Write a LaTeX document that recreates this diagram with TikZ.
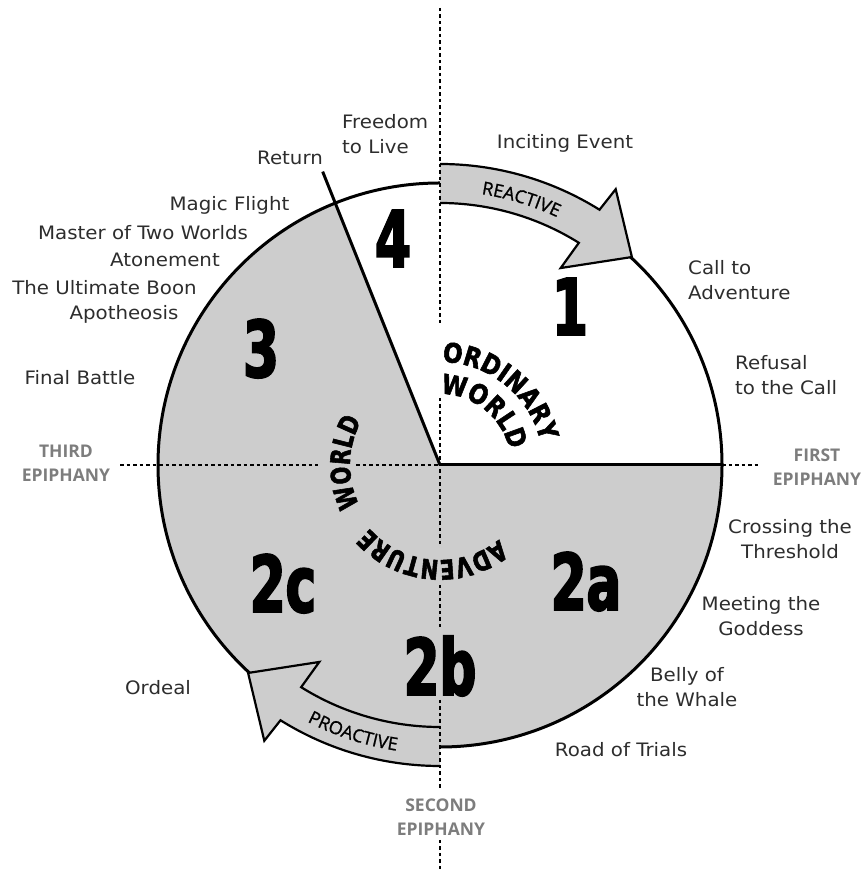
\documentclass[tikz,border=0pt]{standalone}
\usepackage{fontspec}
\setmainfont{DejaVu Sans}
\newfontfamily\labfont{DejaVu Sans}[FakeStretch=1.07]
\newfontfamily\numfont{DejaVu Sans}[FakeStretch=0.66,FakeBold=2.5]
\newfontfamily\heavyfont{DejaVu Sans}[FakeStretch=0.85,FakeBold=2]
\newfontfamily\advfont{DejaVu Sans}[FakeStretch=0.78,FakeBold=2]
\newfontfamily\arrfont{Open Sans}[FakeBold=1]
\newfontfamily\epifont{Open Sans}
\usetikzlibrary{decorations.text}
\definecolor{regiongray}{RGB}{205,205,205}
\definecolor{labeltext}{RGB}{45,45,45}
\definecolor{epigray}{RGB}{125,125,125}
\newcommand{\ctwo}[2]{\vtop{\halign{\hfil##\hfil\cr #1\cr #2\cr}}}
\newcommand{\ltwo}[2]{\vtop{\halign{##\hfil\cr #1\cr #2\cr}}}
\begin{document}
\begin{tikzpicture}[x=1pt,y=1pt,
  lab/.style={font=\labfont\fontsize{18.5}{25}\selectfont, text=labeltext, inner sep=0pt, anchor=base},
  epi/.style={font=\epifont\bfseries\fontsize{17.5}{24}\selectfont, text=epigray, inner sep=0pt, anchor=base},
  bignum/.style={font=\numfont\bfseries\fontsize{78}{78}\selectfont, inner sep=0pt, anchor=base},
  guide/.style={line width=2.2pt, dash pattern=on 3.5pt off 3pt},
  rim/.style={line width=3pt},
  arrowfill/.style={fill=regiongray},
  arrowline/.style={draw=black, line width=2.2pt, line join=miter},
]
\useasboundingbox (0,0) rectangle (864,869);
\coordinate (C) at (440,404);

\begin{scope}[shift={(C)}]
  % regions
  \fill[regiongray] (0,0) -- (111.8:282) arc[start angle=111.8,end angle=360,radius=282] -- cycle;
  \draw[rim] (0,0) circle[radius=282];
  \draw[rim] (0,0) -- (111.8:316);
  \draw[rim] (0,0) -- (0:282);
  % reactive arrow
  \fill[arrowfill] (90:301) arc[start angle=90,end angle=58,radius=301] -- (57.5:327) -- (47.3:283) -- (58.5:231) -- (58:262) arc[start angle=58,end angle=90,radius=262] -- cycle;
  \draw[arrowline] (90:301) arc[start angle=90,end angle=58,radius=301] -- (57.5:327) -- (47.3:283) -- (58.5:231) -- (58:262) arc[start angle=58,end angle=90,radius=262];
  % proactive arrow
  \fill[arrowfill] (270:301) arc[start angle=270,end angle=238,radius=301] -- (237.5:327) -- (227.3:283) -- (238.5:231) -- (238:262) arc[start angle=238,end angle=270,radius=262] -- cycle;
  \draw[arrowline] (270:301) arc[start angle=270,end angle=238,radius=301] -- (237.5:327) -- (227.3:283) -- (238.5:231) -- (238:262) arc[start angle=238,end angle=270,radius=262];
  % arrow texts
  \path[decorate, decoration={text along path, text align=center,
     text={|\arrfont\fontsize{18}{18}\selectfont|REACTIVE}}]
     (93:274) arc[start angle=93,end angle=53,radius=274];
  \path[decorate, decoration={text along path, text align=center,
     text={|\arrfont\fontsize{18}{18}\selectfont|PROACTIVE}}]
     (230:289) arc[start angle=230,end angle=274,radius=289];
  % world texts
  \path[decorate, decoration={text along path, text align=center,
     text={|\heavyfont\bfseries\fontsize{27}{27}\selectfont|ORDINARY}}]
     (100:103) arc[start angle=100,end angle=2,radius=103];
  \path[decorate, decoration={text along path, text align=center,
     text={|\heavyfont\bfseries\fontsize{27}{27}\selectfont|WORLD}}]
     (100:71) arc[start angle=100,end angle=2,radius=71];
  \path[decorate, decoration={text along path, text align=center,
     text={|\advfont\bfseries\fontsize{27}{27}\selectfont|ADVENTURE}}]
     (335:95) arc[start angle=335,end angle=195,radius=95];
  \path[decorate, decoration={text along path, text align=center,
     text={|\advfont\bfseries\fontsize{27}{27}\selectfont|WORLD}}]
     (212:90) arc[start angle=212,end angle=145,radius=90];
\end{scope}

% guide lines
\coordinate (v0) at (440,861);
\coordinate (v1) at (440,544);
\coordinate (v2) at (440,471);
\coordinate (v3) at (440,324);
\coordinate (v4) at (440,284);
\coordinate (v5) at (440,241);
\coordinate (v6) at (440,169);
\coordinate (v7) at (440,79);
\coordinate (v8) at (440,29);
\coordinate (v9) at (440,0);
\coordinate (h0) at (120,404);
\coordinate (h1) at (318,404);
\coordinate (h2) at (356,404);
\coordinate (h3) at (722,404);
\coordinate (h4) at (760,404);
\draw[guide] (v0) -- (v1);
\draw[guide] (v2) -- (v3);
\draw[guide] (v4) -- (v5);
\draw[guide] (v6) -- (v7);
\draw[guide] (v8) -- (v9);
\draw[guide] (h0) -- (h1);
\draw[guide] (h2) -- (C);
\draw[guide] (h3) -- (h4);

% big numbers
\node[bignum] (n4) at (393,602) {4};
\node[bignum] (n1) at (570,534) {1};
\node[bignum] (n3) at (261,492) {3};
\node[bignum] (n2a) at (586,259) {2a};
\node[bignum] (n2c) at (283,257) {2c};
\node[bignum] (n2b) at (440,174) {2b};

% stage labels
\node[lab, anchor=base west] (freedom) at (342,740) {\ltwo{Freedom}{to Live}};
\node[lab] (inciting) at (565,720) {Inciting Event};
\node[lab] (return) at (290,704) {Return};
\node[lab] (magic) at (229.5,658) {Magic Flight};
\node[lab] (master) at (143,629) {Master of Two Worlds};
\node[lab] (atone) at (165,602) {Atonement};
\node[lab] (boon) at (104.5,574) {The Ultimate Boon};
\node[lab] (apo) at (124,549) {Apotheosis};
\node[lab] (battle) at (80,484) {Final Battle};
\node[lab, anchor=base west] (call) at (688,594) {\ltwo{Call to}{Adventure}};
\node[lab, anchor=base west] (refusal) at (735,499) {\ltwo{Refusal}{to the Call}};
\node[lab] (crossing) at (790,335) {\ctwo{Crossing the}{Threshold}};
\node[lab] (goddess) at (761,258) {\ctwo{Meeting the}{Goddess}};
\node[lab] (belly) at (687,187) {\ctwo{Belly of}{the Whale}};
\node[lab] (road) at (621,112) {Road of Trials};
\node[lab] (ordeal) at (158,174) {Ordeal};

% epiphanies
\node[epi] (third) at (66,411) {\ctwo{THIRD}{EPIPHANY}};
\node[epi] (first) at (817,407) {\ctwo{FIRST}{EPIPHANY}};
\node[epi] (second) at (441,57) {\ctwo{SECOND}{EPIPHANY}};
\end{tikzpicture}
\end{document}
